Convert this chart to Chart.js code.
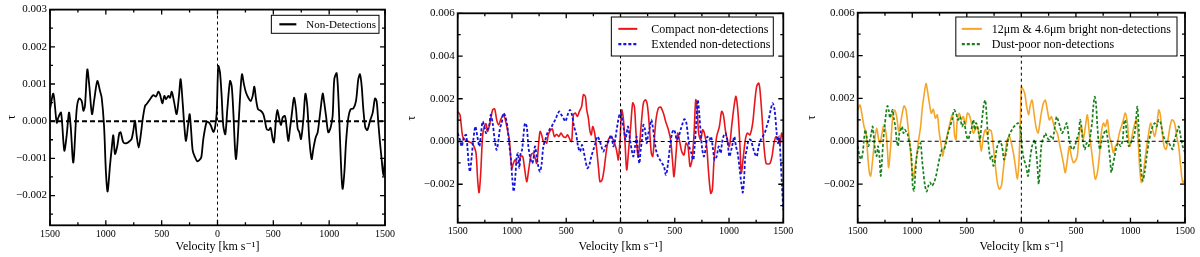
<!DOCTYPE html>
<html>
<head>
<meta charset="utf-8">
<script src="https://cdn.jsdelivr.net/npm/chart.js@4.4.1/dist/chart.umd.min.js"></script>
<style>
  html, body { margin: 0; padding: 0; background: #fff; }
  .panel { position: absolute; top: 0; width: 400px; height: 257px; }
</style>
</head>
<body>
<div class="panel" style="left:0px"><canvas id="c1" width="400" height="257"></canvas></div>
<div class="panel" style="left:400px"><canvas id="c2" width="400" height="257"></canvas></div>
<div class="panel" style="left:800px"><canvas id="c3" width="400" height="257"></canvas></div>
<script>
// ---------------- DATA ----------------
const xTickValues = [-1500, -1000, -500, 0, 500, 1000, 1500];
const xTickLabels = ['1500', '1000', '500', '0', '500', '1000', '1500'];
const xMinorTicks = [-1250, -750, -250, 250, 750, 1250];

const yTickValues1 = [-0.002, -0.001, 0, 0.001, 0.002, 0.003];
const yTickLabels1 = ['\u22120.002', '\u22120.001', '0.000', '0.001', '0.002', '0.003'];
const yMinorTicks1 = [-0.0025, -0.0015, -0.0005, 0.0005, 0.0015, 0.0025];

const yTickValues23 = [-0.002, 0, 0.002, 0.004, 0.006];
const yTickLabels23 = ['\u22120.002', '0.000', '0.002', '0.004', '0.006'];
const yMinorTicks23 = [-0.003, -0.001, 0.001, 0.003, 0.005];

// Panel 1: all non-detections
const velNonDet = [-1500,-1470,-1440,-1425,-1401,-1372,-1351,-1330,-1315,-1291,-1261,-1240,-1216,-1201,-1187,-1166,-1148,-1124,-1103,-1076,-1052,-1037,-1016,-999,-984,-963,-948,-933,-918,-897,-879,-867,-843,-813,-784,-769,-754,-739,-724,-706,-688,-670,-649,-634,-604,-575,-551,-530,-515,-494,-476,-461,-440,-425,-410,-390,-366,-345,-330,-312,-297,-282,-261,-249,-237,-222,-201,-181,-163,-145,-127,-97,-76,-58,-37,-22,-7,7,22,37,52,70,88,112,127,142,157,166,181,201,219,237,255,276,297,315,330,345,363,387,410,425,440,458,476,494,506,524,536,554,569,584,604,619,634,649,667,685,703,718,733,748,769,787,804,822,843,858,879,897,918,942,954,972,992,1013,1031,1046,1067,1082,1097,1112,1121,1136,1151,1172,1192,1216,1240,1261,1276,1291,1306,1324,1342,1366,1390,1410,1425,1440,1455,1470,1485,1500];
const tauNonDet = [0.32e-3,0.74e-3,-0.04e-3,0.10e-3,0.23e-3,-0.79e-3,-0.39e-3,0.23e-3,-0.13e-3,-1.11e-3,0.32e-3,0.61e-3,0.54e-3,0.28e-3,0.41e-3,1.39e-3,0.95e-3,0.19e-3,0.59e-3,1.08e-3,0.81e-3,0.63e-3,-0.13e-3,-1.38e-3,-1.89e-3,-1.20e-3,-0.75e-3,-0.38e-3,-0.88e-3,-0.66e-3,-0.32e-3,-0.30e-3,-0.57e-3,-0.59e-3,-0.53e-3,-0.48e-3,-0.26e-3,0.01e-3,-0.39e-3,-0.71e-3,-0.39e-3,0.05e-3,0.41e-3,0.46e-3,0.59e-3,0.70e-3,0.66e-3,0.79e-3,0.72e-3,0.48e-3,0.68e-3,0.59e-3,0.68e-3,0.63e-3,0.79e-3,0.54e-3,0.19e-3,0.68e-3,1.13e-3,0.50e-3,-0.13e-3,-0.53e-3,-0.04e-3,0.19e-3,-0.21e-3,-0.79e-3,-0.97e-3,-1.08e-3,-1.05e-3,-0.97e-3,-0.48e-3,-0.02e-3,-0.04e-3,-0.13e-3,-0.29e-3,-0.17e-3,0.23e-3,1.48e-3,1.32e-3,0.68e-3,-0.13e-3,-0.35e-3,0.32e-3,1.08e-3,0.95e-3,0.23e-3,-0.75e-3,-1.02e-3,-0.48e-3,0.59e-3,1.26e-3,0.99e-3,0.77e-3,0.63e-3,0.54e-3,0.68e-3,0.93e-3,0.59e-3,0.32e-3,0.28e-3,0.19e-3,0.01e-3,-0.21e-3,-0.24e-3,-0.18e-3,-0.48e-3,-0.57e-3,0.05e-3,0.30e-3,0.05e-3,-0.10e-3,0.10e-3,0.14e-3,-0.17e-3,-0.53e-3,-0.21e-3,0.23e-3,0.63e-3,0.32e-3,-0.20e-3,-0.30e-3,-0.48e-3,0.05e-3,0.74e-3,0.41e-3,-0.48e-3,-1.02e-3,-0.75e-3,-0.44e-3,-0.30e-3,0.19e-3,0.74e-3,0.54e-3,0.14e-3,-0.30e-3,-0.17e-3,0.14e-3,1.13e-3,1.29e-3,0.68e-3,-0.48e-3,-1.55e-3,-1.82e-3,-1.38e-3,-0.57e-3,0.10e-3,0.32e-3,0.34e-3,0.54e-3,1.13e-3,1.26e-3,0.95e-3,0.32e-3,-0.17e-3,-0.24e-3,0.01e-3,0.23e-3,0.61e-3,0.54e-3,-0.04e-3,-0.57e-3,-1.02e-3,-1.46e-3,-1.02e-3];

// Panel 2: compact non-detections
const velCompact = [-1500,-1479,-1454,-1432,-1402,-1371,-1350,-1331,-1316,-1303,-1288,-1270,-1254,-1239,-1224,-1202,-1178,-1159,-1141,-1122,-1104,-1079,-1061,-1042,-1024,-1002,-987,-972,-950,-932,-920,-901,-886,-864,-846,-827,-809,-791,-772,-754,-741,-726,-711,-692,-680,-665,-649,-628,-609,-588,-569,-548,-526,-505,-487,-465,-450,-434,-416,-397,-379,-358,-342,-324,-311,-296,-281,-269,-256,-238,-219,-201,-189,-170,-152,-133,-112,-90,-66,-41,-29,-20,-4,11,26,42,57,75,94,112,128,143,161,174,192,211,229,247,266,284,297,309,327,349,370,395,416,441,462,481,493,512,527,542,564,585,604,622,641,659,677,693,705,720,739,757,773,794,812,831,846,862,886,911,932,948,966,984,1003,1024,1046,1064,1083,1101,1113,1132,1150,1169,1193,1218,1236,1255,1273,1285,1304,1322,1341,1359,1378,1396,1414,1433,1454,1470,1485,1500];
const tauCompact = [1.41e-3,1.25e-3,0.23e-3,0.08e-3,0,-0.08e-3,-0.23e-3,-0.55e-3,-1.80e-3,-2.39e-3,-1.48e-3,0.31e-3,0.70e-3,0.83e-3,0.47e-3,0.89e-3,1.48e-3,1.52e-3,1.02e-3,0.78e-3,1.02e-3,1.25e-3,1.02e-3,0.55e-3,0.08e-3,-1.25e-3,-1.02e-3,-0.86e-3,-1.02e-3,-0.86e-3,-0.70e-3,-0.70e-3,-1.17e-3,-1.88e-3,-1.33e-3,-0.70e-3,-0.55e-3,-0.70e-3,-1.02e-3,-0.08e-3,0.47e-3,0.31e-3,0,0,-0.08e-3,0.31e-3,0.50e-3,0.59e-3,0.23e-3,0.34e-3,0.23e-3,0.39e-3,0.23e-3,0.20e-3,0.31e-3,0.08e-3,0,1.25e-3,1.33e-3,1.17e-3,1.41e-3,1.64e-3,2.19e-3,2.11e-3,1.48e-3,1.09e-3,0.47e-3,0.31e-3,0.70e-3,0.39e-3,-0.39e-3,-1.33e-3,-1.88e-3,-1.80e-3,-1.33e-3,-0.55e-3,0.08e-3,0.23e-3,0.08e-3,-0.31e-3,-0.63e-3,-0.86e-3,0.08e-3,1.48e-3,1.09e-3,-0.08e-3,-1.33e-3,-0.39e-3,0.70e-3,1.80e-3,1.64e-3,0.39e-3,-0.70e-3,-0.23e-3,0.86e-3,1.80e-3,1.95e-3,1.72e-3,0.70e-3,-0.55e-3,-0.70e-3,-0.08e-3,1.02e-3,1.56e-3,1.61e-3,1.33e-3,0.94e-3,0.55e-3,0.08e-3,-1.02e-3,-1.64e-3,-0.55e-3,0.39e-3,0.08e-3,-0.47e-3,-0.63e-3,-0.08e-3,-0.23e-3,-1.17e-3,-0.86e-3,0.31e-3,1.95e-3,1.64e-3,0.39e-3,0.08e-3,0.55e-3,0.39e-3,-0.23e-3,-1.48e-3,-2.42e-3,-2.27e-3,-0.86e-3,0.23e-3,0.70e-3,1.41e-3,1.25e-3,0.55e-3,0.08e-3,-0.23e-3,0.70e-3,1.64e-3,2.11e-3,1.33e-3,-0.23e-3,-1.48e-3,-0.70e-3,0.08e-3,0.39e-3,0.31e-3,0.86e-3,1.80e-3,2.58e-3,2.73e-3,2.42e-3,1.17e-3,-0.23e-3,-1.02e-3,-1.05e-3,-1.02e-3,-0.70e-3,-0.08e-3,0.23e-3,0.08e-3,-0.08e-3,0.39e-3,0.08e-3];

// Panel 2: extended non-detections
const velExtended = [-1500,-1479,-1463,-1442,-1423,-1411,-1399,-1387,-1371,-1356,-1337,-1319,-1300,-1285,-1270,-1254,-1239,-1227,-1211,-1196,-1178,-1159,-1141,-1122,-1110,-1095,-1079,-1061,-1042,-1027,-1012,-996,-984,-969,-956,-944,-932,-920,-907,-895,-880,-864,-849,-834,-815,-803,-788,-772,-757,-741,-726,-711,-692,-674,-655,-634,-619,-600,-582,-563,-545,-526,-508,-487,-465,-447,-428,-410,-391,-373,-355,-342,-324,-305,-287,-269,-250,-232,-213,-195,-176,-158,-139,-121,-102,-90,-78,-66,-50,-35,-20,-4,8,20,32,45,57,69,88,103,118,134,149,161,174,186,198,211,226,241,257,272,284,297,309,327,346,364,383,401,419,438,456,475,493,505,518,536,554,573,588,604,619,634,653,671,683,696,711,723,739,754,769,788,800,819,834,849,868,886,905,923,935,948,966,984,1003,1021,1034,1049,1064,1080,1095,1113,1126,1138,1150,1163,1181,1199,1218,1236,1255,1273,1292,1310,1328,1347,1365,1384,1402,1420,1439,1451,1463,1476,1488,1500];
const tauExtended = [0.39e-3,0.08e-3,-0.23e-3,0.23e-3,0.31e-3,-0.23e-3,-1.02e-3,-1.41e-3,-0.70e-3,0.08e-3,0.70e-3,0.23e-3,-0.23e-3,0.39e-3,0.94e-3,0.70e-3,0.39e-3,0.55e-3,0.70e-3,1.25e-3,0.86e-3,0.08e-3,-0.39e-3,0.16e-3,0.63e-3,0.86e-3,1.33e-3,1.17e-3,0.70e-3,-0.08e-3,-0.70e-3,-1.80e-3,-2.34e-3,-1.64e-3,-0.70e-3,-0.55e-3,-1.25e-3,-0.55e-3,-0.39e-3,0.23e-3,0.86e-3,0.70e-3,-0.23e-3,-0.70e-3,-1.02e-3,-0.86e-3,-0.23e-3,-0.70e-3,-1.17e-3,-1.41e-3,-1.02e-3,-0.23e-3,0.08e-3,0.39e-3,0.55e-3,0.70e-3,0.86e-3,1.02e-3,1.25e-3,1.41e-3,1.25e-3,1.09e-3,0.94e-3,1.25e-3,1.48e-3,1.25e-3,0.70e-3,0.39e-3,-0.23e-3,-0.47e-3,-0.16e-3,-0.39e-3,-0.86e-3,-1.25e-3,-1.09e-3,-0.70e-3,-0.39e-3,-0.08e-3,0.23e-3,0.08e-3,-0.23e-3,-0.47e-3,-0.23e-3,-0.08e-3,0.08e-3,0.31e-3,0.16e-3,-0.23e-3,0.08e-3,0.55e-3,1.02e-3,1.33e-3,1.25e-3,0.86e-3,0.55e-3,0.08e-3,0.39e-3,0.70e-3,0.08e-3,-0.39e-3,-0.70e-3,-0.23e-3,0.23e-3,-0.55e-3,-1.02e-3,-0.39e-3,0.08e-3,0.78e-3,0.55e-3,-0.08e-3,0.39e-3,0.70e-3,1.02e-3,0.70e-3,0.23e-3,-0.39e-3,-0.70e-3,-0.86e-3,-1.02e-3,-1.17e-3,-1.56e-3,-1.02e-3,-0.23e-3,0.39e-3,0.55e-3,0.39e-3,0.08e-3,0.23e-3,0.55e-3,0.86e-3,1.05e-3,0.94e-3,0.39e-3,-0.23e-3,-0.55e-3,-0.86e-3,-0.23e-3,0.70e-3,1.95e-3,1.48e-3,0.39e-3,-0.39e-3,-0.70e-3,-0.23e-3,0.23e-3,0.08e-3,0.23e-3,-0.23e-3,-0.86e-3,-0.70e-3,-0.23e-3,-0.55e-3,-0.08e-3,0.23e-3,0.39e-3,0.08e-3,-0.70e-3,-0.39e-3,-0.08e-3,0.23e-3,-0.23e-3,-0.55e-3,-1.17e-3,-1.95e-3,-2.39e-3,-1.80e-3,-0.70e-3,-0.39e-3,0.08e-3,0.08e-3,-0.23e-3,-0.55e-3,-0.70e-3,-0.23e-3,0.08e-3,0.23e-3,0.39e-3,0.70e-3,1.02e-3,1.48e-3,1.80e-3,1.48e-3,0.39e-3,-0.08e-3,0.23e-3,-0.86e-3,-2.11e-3,-3.20e-3];

// Panel 3: 12um & 4.6um bright non-detections
const velBright = [-1500,-1479,-1460,-1442,-1424,-1405,-1393,-1381,-1363,-1344,-1326,-1308,-1295,-1277,-1259,-1240,-1228,-1216,-1198,-1179,-1161,-1143,-1124,-1112,-1094,-1075,-1057,-1039,-1020,-1002,-990,-978,-959,-941,-923,-910,-892,-874,-861,-843,-825,-807,-788,-770,-752,-733,-721,-709,-690,-672,-654,-635,-623,-611,-599,-587,-568,-550,-532,-513,-495,-477,-458,-440,-422,-403,-385,-367,-348,-330,-312,-293,-275,-257,-238,-220,-202,-183,-165,-147,-128,-110,-92,-73,-55,-37,-24,-12,0,12,31,49,67,79,98,116,134,153,165,183,202,220,238,257,275,293,312,330,348,367,385,403,422,440,458,477,495,513,532,550,568,587,605,623,642,660,678,697,715,733,752,770,788,807,825,843,862,880,898,917,935,953,972,984,996,1014,1033,1051,1063,1075,1088,1100,1112,1130,1149,1167,1185,1204,1222,1240,1259,1271,1289,1308,1326,1344,1363,1381,1399,1411,1424,1442,1460,1479,1500];
const tauBright = [1.46e-3,1.69e-3,1.23e-3,0.69e-3,0.38e-3,-0.85e-3,-1.46e-3,-1.62e-3,-0.85e-3,0.08e-3,0.62e-3,0.08e-3,-0.08e-3,0.38e-3,0.77e-3,0.38e-3,-0.38e-3,-1.23e-3,-0.23e-3,1.15e-3,1.46e-3,1.15e-3,0.46e-3,0.69e-3,1.23e-3,1.65e-3,1.46e-3,0.69e-3,-0.23e-3,-1.31e-3,-1.77e-3,-1.31e-3,-0.69e-3,0.08e-3,0.69e-3,1.46e-3,2.15e-3,2.69e-3,2.38e-3,1.77e-3,1.31e-3,1.49e-3,1.08e-3,1.23e-3,0.38e-3,-0.23e-3,-0.69e-3,-0.38e-3,0.08e-3,0.46e-3,0.85e-3,1.23e-3,1.00e-3,0.23e-3,0.08e-3,1.00e-3,1.31e-3,1.00e-3,1.15e-3,0.77e-3,1.31e-3,1.23e-3,0.85e-3,0.38e-3,0.54e-3,0.69e-3,0.23e-3,-0.46e-3,0.23e-3,0.54e-3,0.31e-3,0.54e-3,0.46e-3,-0.23e-3,-1.15e-3,-1.92e-3,-2.23e-3,-2.08e-3,-1.31e-3,-0.54e-3,0.08e-3,0.23e-3,-0.08e-3,-0.54e-3,-1.15e-3,-1.77e-3,-1.15e-3,0.38e-3,2.54e-3,2.46e-3,2.23e-3,1.62e-3,1.23e-3,1.62e-3,1.92e-3,1.31e-3,0.69e-3,0.38e-3,0.69e-3,1.31e-3,1.77e-3,1.92e-3,1.46e-3,1.00e-3,1.15e-3,0.85e-3,0.54e-3,0.38e-3,-0.08e-3,-0.54e-3,-1.00e-3,-1.46e-3,-0.85e-3,-0.23e-3,-0.69e-3,-1.00e-3,-0.92e-3,-0.69e-3,0.38e-3,0.69e-3,0.08e-3,0.69e-3,1.23e-3,0.38e-3,-0.38e-3,-1.15e-3,-1.77e-3,-1.46e-3,-0.69e-3,0.38e-3,0.85e-3,0.69e-3,1.00e-3,0.23e-3,-0.08e-3,-0.54e-3,-0.23e-3,-0.08e-3,0.38e-3,0.69e-3,1.00e-3,1.31e-3,0.85e-3,0.08e-3,-0.23e-3,0.23e-3,0.69e-3,1.00e-3,0.69e-3,-0.38e-3,-1.46e-3,-1.92e-3,-1.77e-3,-1.00e-3,-0.23e-3,0.38e-3,0.85e-3,0.54e-3,0.23e-3,0.69e-3,1.46e-3,1.31e-3,0.54e-3,-0.23e-3,-0.38e-3,0.08e-3,0.69e-3,1.00e-3,0.92e-3,0.69e-3,0.23e-3,-0.23e-3,-1.15e-3,-1.92e-3,-1.77e-3];

// Panel 3: dust-poor non-detections
const velDustPoor = [-1500,-1485,-1469,-1454,-1442,-1430,-1418,-1402,-1387,-1375,-1363,-1350,-1338,-1326,-1314,-1301,-1289,-1277,-1265,-1253,-1240,-1228,-1216,-1204,-1191,-1179,-1167,-1155,-1143,-1130,-1118,-1106,-1094,-1081,-1069,-1057,-1045,-1033,-1020,-1008,-996,-984,-971,-959,-947,-935,-923,-910,-898,-883,-868,-852,-837,-819,-800,-782,-764,-745,-727,-709,-690,-672,-654,-635,-617,-599,-580,-562,-544,-525,-507,-489,-470,-452,-440,-428,-415,-403,-391,-379,-367,-354,-342,-330,-318,-305,-293,-281,-269,-257,-244,-232,-220,-208,-195,-177,-159,-140,-122,-104,-86,-67,-49,-31,-12,0,12,24,43,61,79,98,110,122,134,147,159,171,183,196,208,220,232,251,269,287,299,312,324,336,354,373,391,403,416,434,452,470,489,507,526,538,550,562,580,599,617,635,648,660,672,684,697,709,721,739,758,776,788,800,813,825,837,855,874,892,910,929,941,953,965,984,1002,1020,1039,1051,1063,1075,1088,1100,1112,1130,1149,1167,1185,1204,1222,1240,1259,1277,1295,1314,1332,1350,1369,1387,1405,1424,1442,1460,1479,1500];
const tauDustPoor = [-0.23e-3,-0.62e-3,-0.85e-3,-0.54e-3,0.08e-3,0.54e-3,0.23e-3,-0.23e-3,0.08e-3,0.38e-3,0.69e-3,0.08e-3,-0.54e-3,-0.69e-3,-0.23e-3,-0.69e-3,-1.62e-3,-0.85e-3,0.08e-3,0.69e-3,1.31e-3,1.65e-3,1.46e-3,1.08e-3,1.31e-3,1.46e-3,1.00e-3,0.69e-3,0.08e-3,-0.23e-3,0.38e-3,0.54e-3,0.69e-3,0.38e-3,0.54e-3,0.46e-3,0.38e-3,0.08e-3,-0.23e-3,-0.69e-3,-2.08e-3,-2.31e-3,-1.46e-3,-0.69e-3,-0.38e-3,-0.23e-3,-0.08e-3,-0.85e-3,-1.46e-3,-2.08e-3,-2.35e-3,-2.08e-3,-1.92e-3,-2.08e-3,-1.92e-3,-1.62e-3,-1.15e-3,-0.69e-3,-0.38e-3,-0.38e-3,-0.08e-3,0.38e-3,0.69e-3,1.00e-3,1.46e-3,1.31e-3,1.00e-3,1.15e-3,0.69e-3,0.92e-3,0.38e-3,0.08e-3,0.38e-3,0.69e-3,1.00e-3,0.54e-3,0.85e-3,0.69e-3,0.38e-3,0.08e-3,0.69e-3,1.31e-3,1.77e-3,1.92e-3,1.15e-3,0.08e-3,-0.54e-3,-0.85e-3,-0.69e-3,-1.15e-3,-1.00e-3,-0.54e-3,-0.23e-3,-0.08e-3,0,-0.23e-3,-0.85e-3,-0.54e-3,0.08e-3,0.38e-3,0.54e-3,0.69e-3,0.77e-3,0.85e-3,0.69e-3,0.08e-3,-0.54e-3,-0.85e-3,-1.15e-3,-1.62e-3,-0.85e-3,-0.23e-3,-0.08e-3,0.08e-3,-0.38e-3,-1.15e-3,-2.00e-3,-1.15e-3,-0.23e-3,0.08e-3,0.23e-3,0.38e-3,0.23e-3,0.08e-3,0.23e-3,0.08e-3,0.38e-3,0.85e-3,1.15e-3,1.00e-3,0.69e-3,0.38e-3,0.54e-3,0.69e-3,0.85e-3,0.23e-3,-0.23e-3,-0.38e-3,-0.23e-3,0.08e-3,0.38e-3,1.00e-3,0.69e-3,0.08e-3,-0.38e-3,-0.08e-3,-0.23e-3,0.38e-3,0.85e-3,1.62e-3,2.08e-3,1.77e-3,0.69e-3,-0.08e-3,-0.38e-3,0.08e-3,0.38e-3,0.54e-3,0.23e-3,-0.23e-3,-0.85e-3,-1.46e-3,-1.15e-3,-0.69e-3,-0.23e-3,-0.08e-3,-0.23e-3,0.08e-3,0.85e-3,1.00e-3,0.38e-3,-0.23e-3,-0.08e-3,0.08e-3,0.38e-3,1.00e-3,1.62e-3,0.69e-3,-0.54e-3,-1.46e-3,-1.85e-3,-1.46e-3,-0.69e-3,-0.08e-3,0.38e-3,0.69e-3,0.85e-3,0.69e-3,1.00e-3,0.85e-3,0.38e-3,0.08e-3,-0.08e-3,-0.08e-3,-0.23e-3,-0.38e-3,0.08e-3,0.38e-3,0.69e-3,0.23e-3,-0.23e-3,-0.54e-3];

const legendNonDet = 'Non-Detections';
const legendCompact = 'Compact non-detections';
const legendExtended = 'Extended non-detections';
const legendBright = '12\u03bcm & 4.6\u03bcm bright non-detections';
const legendDustPoor = 'Dust-poor non-detections';
const xTitle = 'Velocity [km s\u207b\u00b9]';
const yTitle = '\u03c4';

// ---------------- RENDERING ----------------
const SERIF = '"Liberation Serif", "DejaVu Serif", serif';

function pts(v, t) { return v.map((x, i) => ({ x: x, y: t[i] })); }

const decor = {
  id: 'decor',
  afterDatasetsDraw(chart, args, o) {
    const { ctx, chartArea: a, scales: { x, y } } = chart;
    ctx.save();
    ctx.strokeStyle = '#000';
    // reference lines at zero
    const yz = y.getPixelForValue(0);
    ctx.lineWidth = o.hLineWidth;
    ctx.setLineDash(o.hDash);
    ctx.beginPath(); ctx.moveTo(a.left, yz); ctx.lineTo(a.right, yz); ctx.stroke();
    const xz = x.getPixelForValue(0);
    ctx.lineWidth = 1;
    ctx.setLineDash([3, 3]);
    ctx.beginPath(); ctx.moveTo(xz, a.top); ctx.lineTo(xz, a.bottom); ctx.stroke();
    ctx.setLineDash([]);
    // inward ticks on all four sides
    ctx.lineWidth = 1.3;
    const xt = (vals, len) => vals.forEach(v => {
      const p = x.getPixelForValue(v);
      ctx.beginPath();
      ctx.moveTo(p, a.bottom); ctx.lineTo(p, a.bottom - len);
      ctx.moveTo(p, a.top); ctx.lineTo(p, a.top + len);
      ctx.stroke();
    });
    const yt = (vals, len) => vals.forEach(v => {
      const p = y.getPixelForValue(v);
      ctx.beginPath();
      ctx.moveTo(a.left, p); ctx.lineTo(a.left + len, p);
      ctx.moveTo(a.right, p); ctx.lineTo(a.right - len, p);
      ctx.stroke();
    });
    xt(xTickValues, 5); xt(xMinorTicks, 3);
    yt(o.yMajor, 5); yt(o.yMinor, 3);
    // frame
    ctx.lineWidth = 1.8;
    ctx.strokeRect(a.left, a.top, a.right - a.left, a.bottom - a.top);
    // legend box
    const L = o.legend;
    const items = chart.data.datasets;
    ctx.font = L.font;
    let maxW = 0;
    items.forEach(d => { maxW = Math.max(maxW, ctx.measureText(d.label).width); });
    const w = L.padX + L.lineLen + L.gap + maxW + L.padRight;
    const h = 2 * L.padY + items.length * L.rowH;
    const x0 = a.right - L.right - w;
    const y0 = a.top + L.top;
    ctx.fillStyle = '#fff';
    ctx.fillRect(x0, y0, w, h);
    ctx.lineWidth = 1;
    ctx.strokeStyle = '#000';
    ctx.strokeRect(x0, y0, w, h);
    items.forEach((d, i) => {
      const cy = y0 + L.padY + L.rowH * (i + 0.5);
      ctx.strokeStyle = d.borderColor;
      ctx.lineWidth = d.borderWidth + 0.4;
      ctx.setLineDash(d.borderDash || []);
      ctx.beginPath();
      ctx.moveTo(x0 + L.padX, cy); ctx.lineTo(x0 + L.padX + L.lineLen, cy);
      ctx.stroke();
      ctx.setLineDash([]);
      ctx.fillStyle = '#000';
      ctx.textBaseline = 'middle';
      ctx.textAlign = 'left';
      ctx.fillText(d.label, x0 + L.padX + L.lineLen + L.gap, cy + 0.5);
    });
    ctx.restore();
  }
};

function panel(id, c) {
  return new Chart(document.getElementById(id), {
    type: 'line',
    data: { datasets: c.datasets },
    options: {
      responsive: false, animation: false, devicePixelRatio: 1, events: [],
      layout: { padding: { top: c.padTop, right: c.padRight, left: 0, bottom: 0 } },
      elements: { point: { radius: 0 }, line: { tension: 0.3, fill: false, capBezierPoints: true } },
      plugins: {
        legend: { display: false }, tooltip: { enabled: false },
        decor: { yMajor: c.yMajor, yMinor: c.yMinor, hLineWidth: c.hLineWidth, hDash: c.hDash, legend: c.legend }
      },
      scales: {
        x: {
          type: 'linear', min: -1500, max: 1500,
          grid: { display: false, drawTicks: false }, border: { display: false },
          afterBuildTicks: s => { s.ticks = xTickValues.map(v => ({ value: v })); },
          afterFit: s => { s.height = c.xHeight; },
          ticks: { padding: 3, autoSkip: false, maxRotation: 0, color: '#000',
                   font: { family: SERIF, size: 10 }, callback: (v, i) => xTickLabels[i] },
          title: { display: true, text: xTitle, color: '#000', font: { family: SERIF, size: 12 },
                   padding: { top: 0, bottom: 3 } }
        },
        y: {
          type: 'linear', min: c.yMin, max: c.yMax,
          grid: { display: false, drawTicks: false }, border: { display: false },
          afterBuildTicks: s => { s.ticks = c.yMajor.map(v => ({ value: v })); },
          afterFit: s => { s.width = c.yWidth; },
          ticks: { padding: 3, autoSkip: false, color: '#000',
                   font: { family: SERIF, size: 11 }, callback: (v, i) => c.yLabels[i] },
          title: { display: true, text: yTitle, color: '#000', font: { family: SERIF, size: 12 },
                   padding: { top: 5, bottom: 0 } }
        }
      }
    },
    plugins: [decor]
  });
}

panel('c1', {
  datasets: [
    { label: legendNonDet, data: pts(velNonDet, tauNonDet), borderColor: '#000', borderWidth: 1.8 }
  ],
  yMin: -0.0028, yMax: 0.003, yMajor: yTickValues1, yMinor: yMinorTicks1, yLabels: yTickLabels1,
  padTop: 9.3, padRight: 15, yWidth: 50, xHeight: 31.7,
  hLineWidth: 2, hDash: [5, 3],
  legend: { font: '11px ' + SERIF, right: 6, top: 5.7, padX: 8, lineLen: 17, gap: 10, padRight: 3, rowH: 12, padY: 3 }
});

panel('c2', {
  datasets: [
    { label: legendCompact, data: pts(velCompact, tauCompact), borderColor: '#e8161b', borderWidth: 1.6, order: 2 },
    { label: legendExtended, data: pts(velExtended, tauExtended), borderColor: '#1414dc', borderWidth: 1.8, borderDash: [3, 2], order: 1 }
  ],
  yMin: -0.0038, yMax: 0.006, yMajor: yTickValues23, yMinor: yMinorTicks23, yLabels: yTickLabels23,
  padTop: 13.3, padRight: 16.7, yWidth: 57.7, xHeight: 34.3,
  hLineWidth: 1, hDash: [4, 3],
  legend: { font: '12px ' + SERIF, right: 10, top: 3.7, padX: 7, lineLen: 19, gap: 14, padRight: 3, rowH: 15.3, padY: 4.2 }
});

panel('c3', {
  datasets: [
    { label: legendBright, data: pts(velBright, tauBright), borderColor: '#f5a629', borderWidth: 1.6, order: 2 },
    { label: legendDustPoor, data: pts(velDustPoor, tauDustPoor), borderColor: '#17801a', borderWidth: 1.7, borderDash: [3, 2], order: 1 }
  ],
  yMin: -0.0038, yMax: 0.006, yMajor: yTickValues23, yMinor: yMinorTicks23, yLabels: yTickLabels23,
  padTop: 12.7, padRight: 15, yWidth: 57.7, xHeight: 34.3,
  hLineWidth: 1, hDash: [4, 3],
  legend: { font: '12px ' + SERIF, right: 8, top: 4.3, padX: 6, lineLen: 20, gap: 10, padRight: 6, rowH: 15.3, padY: 4.2 }
});
</script>
</body>
</html>
